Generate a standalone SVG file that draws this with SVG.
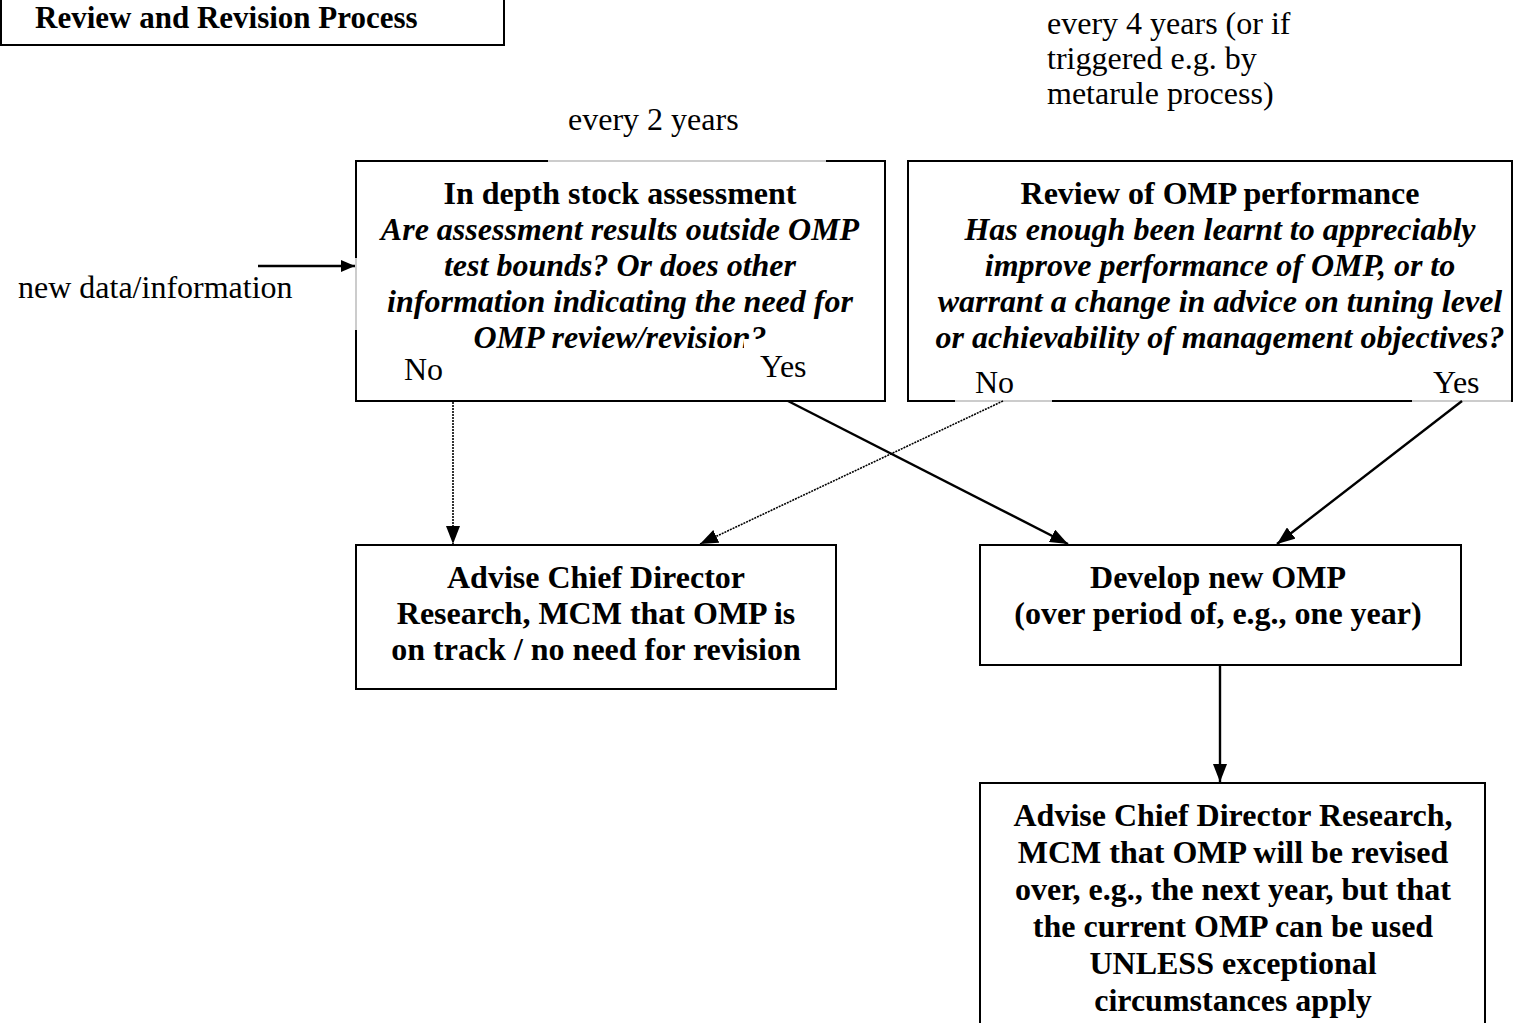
<svg xmlns="http://www.w3.org/2000/svg" width="1515" height="1023" viewBox="0 0 1515 1023">
<style>
text{font-family:"Liberation Serif","Times New Roman",serif;font-size:32px;fill:#000}
.t{font-size:31px}
.b{font-weight:bold}
.bi{font-weight:bold;font-style:italic}
.c{text-anchor:middle}
.box{fill:#fff;stroke:#000;stroke-width:2}
.gap{stroke:#bbb;stroke-width:1.5}
.wh{fill:#fff;stroke:none}
.ln{stroke:#000;stroke-width:2.4;fill:none}
</style>
<defs>
<marker id="ah" markerWidth="14" markerHeight="12" viewBox="0 0 14 12" refX="14" refY="6" orient="auto" markerUnits="userSpaceOnUse">
<path d="M0,0 L14,6 L0,12 z" fill="#000"/>
</marker>
<marker id="ah2" markerWidth="18" markerHeight="14" viewBox="0 0 18 14" refX="18" refY="7" orient="auto" markerUnits="userSpaceOnUse">
<path d="M0,0 L18,7 L0,14 z" fill="#000"/>
</marker>
</defs>

<g id="title">
<rect class="box" x="1" y="-5" width="503" height="50"/>
<text class="b t" x="35" y="28">Review and Revision Process</text>
</g>

<g id="label-4years">
<text x="1047" y="34">every 4 years (or if</text>
<text x="1047" y="69">triggered e.g. by</text>
<text x="1047" y="104">metarule process)</text>
</g>

<g id="label-2years">
<text x="568" y="130">every 2 years</text>
</g>

<g id="label-newdata">
<text x="18" y="298">new data/information</text>
</g>

<g id="node-assessment">
<rect class="box" x="356" y="161" width="529" height="240"/>
<rect class="wh" x="548" y="158" width="278" height="6"/>
<line class="gap" x1="548" y1="161" x2="826" y2="161"/>
<rect class="wh" x="353" y="258" width="6" height="72"/>
<line class="gap" x1="356" y1="258" x2="356" y2="330"/>
<text class="b c" x="620" y="204">In depth stock assessment</text>
<text class="bi c" x="620" y="240">Are assessment results outside OMP</text>
<text class="bi c" x="620" y="276">test bounds? Or does other</text>
<text class="bi c" x="620" y="312">information indicating the need for</text>
<text class="bi c" x="620" y="348">OMP review/revision?</text>
<rect class="wh" x="744" y="339" width="90" height="46"/>
<text x="404" y="380">No</text>
<text x="760" y="377">Yes</text>
</g>

<g id="node-review">
<rect class="box" x="908" y="161" width="604" height="240"/>
<text class="b c" x="1220" y="204">Review of OMP performance</text>
<text class="bi c" x="1220" y="240">Has enough been learnt to appreciably</text>
<text class="bi c" x="1220" y="276">improve performance of OMP, or to</text>
<text class="bi c" x="1220" y="312">warrant a change in advice on tuning level</text>
<text class="bi c" x="1220" y="348">or achievability of management objectives?</text>
<rect class="wh" x="955" y="368" width="97" height="35"/>
<line class="gap" x1="955" y1="401" x2="1052" y2="401"/>
<rect class="wh" x="1412" y="368" width="99" height="35"/>
<line class="gap" x1="1412" y1="401" x2="1511" y2="401"/>
<text x="975" y="393">No</text>
<text x="1433" y="393">Yes</text>
</g>

<g id="node-advise-ontrack">
<rect class="box" x="356" y="545" width="480" height="144"/>
<text class="b c" x="596" y="588">Advise Chief Director</text>
<text class="b c" x="596" y="624">Research, MCM that OMP is</text>
<text class="b c" x="596" y="660">on track / no need for revision</text>
</g>

<g id="node-develop">
<rect class="box" x="980" y="545" width="481" height="120"/>
<text class="b c" x="1218" y="588">Develop new OMP</text>
<text class="b c" x="1218" y="624">(over period of, e.g., one year)</text>
</g>

<g id="node-advise-revise">
<rect class="box" x="980" y="783" width="505" height="250"/>
<text class="b c" x="1233" y="826">Advise Chief Director Research,</text>
<text class="b c" x="1233" y="863">MCM that OMP will be revised</text>
<text class="b c" x="1233" y="900">over, e.g., the next year, but that</text>
<text class="b c" x="1233" y="937">the current OMP can be used</text>
<text class="b c" x="1233" y="974">UNLESS exceptional</text>
<text class="b c" x="1233" y="1011">circumstances apply</text>
</g>

<g id="connectors">
<line class="ln" x1="258" y1="266" x2="355" y2="266" marker-end="url(#ah)"/>
<line x1="453" y1="402" x2="453" y2="544" stroke="#000" stroke-width="1.6" stroke-dasharray="2,1" marker-end="url(#ah2)"/>
<line class="ln" x1="788" y1="401" x2="1068" y2="544" marker-end="url(#ah2)"/>
<line x1="1003" y1="401" x2="700" y2="544" stroke="#000" stroke-width="1.6" stroke-dasharray="2,1" marker-end="url(#ah2)"/>
<line class="ln" x1="1462" y1="401" x2="1277" y2="544" marker-end="url(#ah2)"/>
<line class="ln" x1="1220" y1="665" x2="1220" y2="782" marker-end="url(#ah2)"/>
</g>
</svg>
